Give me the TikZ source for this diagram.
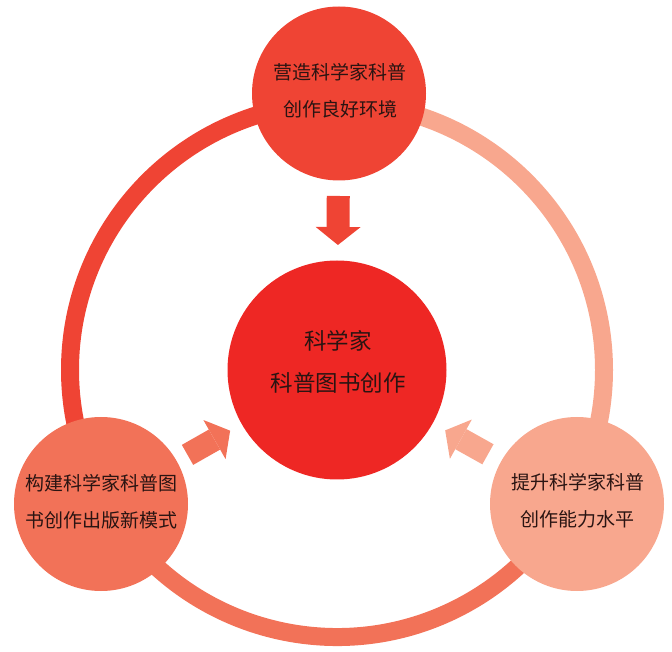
\documentclass[tikz,border=0pt]{standalone}
\usepackage{fontspec}
\newfontfamily\cjk{Noto Sans CJK SC}
\usetikzlibrary{calc,arrows.meta}
\definecolor{cTop}{HTML}{EF4434}
\definecolor{cMid}{HTML}{EE2724}
\definecolor{cLeft}{HTML}{F27258}
\definecolor{cRight}{HTML}{F8A78E}
\definecolor{txt}{HTML}{2A1412}
\begin{document}
\begin{tikzpicture}[x=1pt,y=1pt,
  bubble/.style={circle, inner sep=0pt, minimum size=174pt},
  lbl/.style={font=\cjk\fontsize{19}{37}\selectfont, align=center, text=txt, inner sep=0pt},
  biglbl/.style={font=\cjk\fontsize{22.5}{42}\selectfont, align=center, text=txt, inner sep=0pt},
  ringarc/.style={line width=18pt},
  blockarrow/.style={line width=23pt, -{Triangle[width=45pt,length=18pt,line width=0pt]}}]
\useasboundingbox (0,0) rectangle (672,651);
\coordinate (O) at (337,281);
\draw[ringarc, cTop] (O) ++(90:267) arc[start angle=90,end angle=210,radius=267];
\draw[ringarc, cRight] (O) ++(90:267) arc[start angle=90,end angle=-30,radius=267];
\draw[ringarc, cLeft] (O) ++(210:267) arc[start angle=210,end angle=330,radius=267];
\node[bubble, fill=cMid, minimum size=219pt] (C) at (337,281) {};
\node[bubble, fill=cTop] (T) at (339,557.5) {};
\node[bubble, fill=cLeft] (L) at (101,147) {};
\node[bubble, fill=cRight] (R) at (577,147) {};
\node[lbl] (Tt) at (340,560) {营造科学家科普\\创作良好环境};
\node[biglbl] (Ct) at (338,289) {科学家\\科普图书创作};
\node[lbl] (Lt) at (101.5,149.5) {构建科学家科普图\\书创作出版新模式};
\node[lbl] (Rt) at (577.5,150) {提升科学家科普\\创作能力水平};
\coordinate (a1s) at ($(T)!102.5pt!(C)$);
\coordinate (a1e) at ($(T)!151.5pt!(C)$);
\coordinate (a2s) at ($(L)!99.5pt!(C)$);
\coordinate (a2e) at ($(L)!148.5pt!(C)$);
\coordinate (a3s) at ($(R)!102pt!(C)$);
\coordinate (a3e) at ($(R)!151pt!(C)$);
\draw[blockarrow, cTop] (a1s) -- (a1e);
\draw[blockarrow, cLeft] (a2s) -- (a2e);
\draw[blockarrow, cRight] (a3s) -- (a3e);
\end{tikzpicture}
\end{document}
